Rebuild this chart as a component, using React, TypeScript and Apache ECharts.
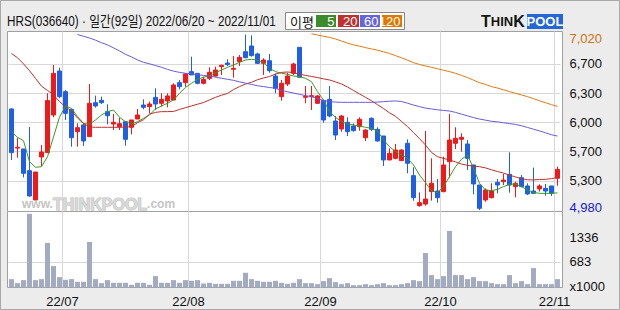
import React, { useEffect, useRef } from "react";
import * as echarts from "echarts";

const stockName = "HRS";
const stockCode = "036640";

const dates = [
  "2022/06/20", "2022/06/21", "2022/06/22", "2022/06/23", "2022/06/24", "2022/06/27", "2022/06/28", "2022/06/29", "2022/06/30",
  "2022/07/01", "2022/07/04", "2022/07/05", "2022/07/06", "2022/07/07", "2022/07/08", "2022/07/11", "2022/07/12", "2022/07/13",
  "2022/07/14", "2022/07/15", "2022/07/18", "2022/07/19", "2022/07/20", "2022/07/21", "2022/07/22", "2022/07/25", "2022/07/26",
  "2022/07/27", "2022/07/28", "2022/07/29",
  "2022/08/01", "2022/08/02", "2022/08/03", "2022/08/04", "2022/08/05", "2022/08/08", "2022/08/09", "2022/08/10", "2022/08/11",
  "2022/08/12", "2022/08/16", "2022/08/17", "2022/08/18", "2022/08/19", "2022/08/22", "2022/08/23", "2022/08/24", "2022/08/25",
  "2022/08/26", "2022/08/29", "2022/08/30", "2022/08/31",
  "2022/09/01", "2022/09/02", "2022/09/05", "2022/09/06", "2022/09/07", "2022/09/08", "2022/09/13", "2022/09/14", "2022/09/15",
  "2022/09/16", "2022/09/19", "2022/09/20", "2022/09/21", "2022/09/22", "2022/09/23", "2022/09/26", "2022/09/27", "2022/09/28",
  "2022/09/29", "2022/09/30",
  "2022/10/04", "2022/10/05", "2022/10/06", "2022/10/07", "2022/10/11", "2022/10/12", "2022/10/13", "2022/10/14", "2022/10/17",
  "2022/10/18", "2022/10/19", "2022/10/20", "2022/10/21", "2022/10/24", "2022/10/25", "2022/10/26", "2022/10/27", "2022/10/28",
  "2022/10/31",
  "2022/11/01",
];

const openP = [
  6155, 5700, 5690, 5438, 5097, 5597, 5647, 6085, 6596, 6356,
  6151, 5891, 5969, 5833, 6228, 6255, 6124, 5980, 5949, 6007,
  5942, 6038, 6201, 6182, 6290, 6221, 6248, 6259, 6461, 6461,
  6589, 6569, 6453, 6511, 6538, 6647, 6689, 6616, 6705, 6821,
  6887, 6794, 6685, 6716, 6538, 6298, 6445, 6569, 6872, 6290,
  6298, 6221, 6252, 6267, 6015, 5922, 6000, 5957, 5949, 5821,
  6046, 5918, 5841, 5562, 5581, 5554, 5756, 5380, 5031, 5050,
  5194, 5201, 5194, 5542, 5756, 5802, 5748, 5504, 5271, 5097,
  5124, 5302, 5310, 5395, 5252, 5356, 5260, 5201, 5225, 5232,
  5260, 5349,
];
const closeP = [
  5647, 5710, 5407, 5143, 5422, 5655, 6252, 6569, 6298, 6104,
  5821, 5938, 5783, 6221, 6190, 6228, 6077, 6000, 5984, 5802,
  6027, 6085, 6174, 6213, 6213, 6267, 6306, 6434, 6414, 6562,
  6550, 6453, 6500, 6581, 6608, 6662, 6670, 6627, 6755, 6751,
  6775, 6685, 6724, 6600, 6395, 6453, 6538, 6678, 6523, 6302,
  6310, 6306, 6027, 6073, 5852, 6073, 5891, 5903, 6035, 5910,
  5918, 5783, 5562, 5639, 5678, 5678, 5523, 5124, 5066, 5108,
  5291, 5124, 5504, 5794, 5814, 5825, 5581, 5283, 5000, 5213,
  5201, 5271, 5329, 5271, 5291, 5252, 5167, 5174, 5260, 5201,
  5174, 5453,
];
const lowP = [
  5562, 5589, 5360, 5136, 5097, 5490, 5647, 6058, 6279, 6027,
  5717, 5717, 5725, 5833, 6170, 6213, 5976, 5910, 5910, 5728,
  5860, 6038, 6151, 6104, 6143, 6182, 6174, 6259, 6383, 6414,
  6550, 6441, 6441, 6492, 6531, 6550, 6654, 6519, 6654, 6744,
  6763, 6678, 6550, 6577, 6337, 6252, 6422, 6550, 6523, 6221,
  6143, 6213, 5996, 6058, 5794, 5891, 5841, 5891, 5903, 5783,
  5899, 5775, 5492, 5562, 5570, 5554, 5407, 5089, 5019, 5031,
  5089, 5066, 5186, 5356, 5690, 5659, 5446, 5163, 4980, 5077,
  5116, 5174, 5271, 5182, 5128, 5244, 5155, 5167, 5194, 5147,
  5143, 5263,
];
const highP = [
  6162, 5821, 5690, 5945, 5422, 5736, 6337, 6666, 6635, 6376,
  6151, 5988, 5988, 6445, 6310, 6298, 6209, 6096, 6054, 6007,
  6027, 6155, 6267, 6240, 6395, 6337, 6337, 6453, 6492, 6569,
  6763, 6569, 6531, 6639, 6647, 6670, 6732, 6771, 6782, 7020,
  7010, 6810, 6744, 6794, 6569, 6492, 6577, 6693, 6872, 6422,
  6422, 6317, 6267, 6422, 6073, 6085, 6058, 5988, 6058, 5918,
  6058, 5942, 5841, 5697, 5748, 5686, 5802, 5477, 5186, 5899,
  5581, 5341, 5601, 6096, 5942, 5872, 5794, 5504, 5271, 5232,
  5291, 5341, 5399, 5651, 5310, 5387, 5291, 5473, 5279, 5283,
  5260, 5484,
];

// volume in thousands of shares
const volume = [
  223, 116, 196, 1960, 196, 223, 1185, 570, 276, 205,
  223, 151, 151, 1211, 223, 116, 196, 125, 125, 125,
  71, 125, 125, 71, 303, 125, 125, 196, 125, 196,
  178, 196, 107, 125, 98, 98, 98, 178, 178, 392,
  223, 178, 151, 151, 178, 125, 98, 125, 223, 116,
  116, 89, 169, 249, 143, 89, 116, 62, 62, 89,
  62, 89, 116, 62, 62, 89, 116, 196, 169, 917,
  330, 223, 303, 1505, 330, 330, 223, 276, 169, 169,
  116, 89, 89, 330, 116, 169, 89, 517, 89, 89,
  89, 223,
];

const ma5 = [
  5891, 5825, 5786, 5542, 5477, 5484, 5600, 5830, 6060, 6190,
  6162, 6066, 5988, 5976, 6027, 6085, 6124, 6143, 6058, 6007,
  5980, 6007, 6046, 6085, 6155, 6190, 6221, 6259, 6337, 6406,
  6453, 6500, 6523, 6542, 6577, 6608, 6639, 6666, 6697, 6724,
  6732, 6724, 6693, 6627, 6589, 6570, 6558, 6538, 6531, 6511,
  6472, 6356, 6259, 6124, 6058, 6007, 5980, 5969, 5957, 5942,
  5930, 5903, 5794, 5717, 5659, 5620, 5581, 5504, 5387, 5298,
  5205, 5182, 5252, 5368, 5484, 5570, 5620, 5465, 5291, 5213,
  5205, 5221, 5252, 5279, 5283, 5252, 5213, 5186, 5174, 5174,
  5174, 5180,
];
const ma20 = [
  6800, 6750, 6680, 6600, 6510, 6420, 6370, 6320, 6240, 6180,
  6130, 6050, 5985, 5945, 5942, 5942, 5942, 5942, 5942, 5945,
  5950, 5995, 6030, 6095, 6115, 6124, 6124, 6126, 6150, 6170,
  6190, 6210, 6230, 6260, 6290, 6315, 6335, 6380, 6415, 6445,
  6465, 6495, 6515, 6532, 6560, 6580, 6585, 6577, 6560, 6545,
  6533, 6520, 6505, 6492, 6470, 6445, 6410, 6370, 6330, 6290,
  6250, 6205, 6160, 6110, 6070, 6010, 5950, 5880, 5810, 5736,
  5650, 5600, 5580, 5562, 5540, 5515, 5500, 5490, 5484, 5470,
  5448, 5428, 5410, 5385, 5365, 5345, 5332, 5330, 5335, 5337,
  5345, 5360,
];
const ma60 = [
  null, null, null, null, null, null, null, null, null, null,
  null, 7020, 7000, 6980, 6955, 6925, 6900, 6865, 6830, 6790,
  6760, 6725, 6697, 6680, 6660, 6640, 6615, 6595, 6580, 6570,
  6560, 6552, 6545, 6538, 6525, 6512, 6500, 6488, 6470, 6455,
  6440, 6425, 6415, 6405, 6395, 6370, 6355, 6340, 6325, 6310,
  6298, 6275, 6255, 6240, 6235, 6232, 6232, 6232, 6232, 6232,
  6232, 6235, 6240, 6245, 6248, 6242, 6222, 6200, 6182, 6165,
  6155, 6145, 6138, 6131, 6115, 6095, 6075, 6055, 6038, 6025,
  6012, 6005, 5995, 5985, 5975, 5960, 5940, 5920, 5900, 5878,
  5855, 5840,
];
const ma120 = [
  null, null, null, null, null, null, null, null, null, null,
  null, null, null, null, null, null, null, null, null, null,
  null, null, null, null, null, null, null, null, null, null,
  null, null, null, null, null, null, null, null, null, null,
  null, null, null, null, null, null, null, null, null, null,
  7030, 7015, 7000, 6988, 6968, 6945, 6920, 6900, 6885, 6868,
  6853, 6838, 6820, 6800, 6775, 6750, 6722, 6693, 6672, 6655,
  6639, 6622, 6605, 6589, 6570, 6545, 6520, 6490, 6460, 6440,
  6415, 6398, 6378, 6357, 6337, 6318, 6298, 6275, 6250, 6228,
  6205, 6185,
];

const priceTicks = [4980, 5320, 5660, 6000, 6340, 6680, 7020];
const priceTickLabels = ["4,980", "5,300", "5,700", "6,000", "6,300", "6,700", "7,020"];
const volumeTicks = [0, 683, 1336];
const volumeTickLabels = ["x1000", "683", "1336"];
const maNames = ["5", "20", "60", "120"];
const maColors = ["#3C9A22", "#C0302C", "#6A5ADC", "#E07A10"];
const maBoxColors = ["#3C8C2C", "#C0302C", "#6464DC", "#E07800"];

const UP = "#F01818";
const DOWN = "#1E5FE6";
const FONT = "'Liberation Sans', 'Noto Sans CJK KR', sans-serif";

function buildOption() {
  const monthStarts: number[] = [];
  dates.forEach((d, i) => {
    if (i > 0 && d.slice(5, 7) !== dates[i - 1].slice(5, 7)) monthStarts.push(i);
  });
  const monthSet = new Set(monthStarts);
  const n = dates.length;
  const header = `${stockName}(${stockCode}) · 일간(${n}일) ${dates[0]} ~ ${dates[n - 1]}`;

  const grids = [
    { left: 8.5, width: 552, top: 31.5, height: 180 },
    { left: 8.5, width: 552, top: 211.5, height: 76 },
  ];

  const legendEls: any[] = [];
  const boxX = [316, 338, 360, 382];
  const boxW = [20, 21, 20, 20];
  maNames.forEach((nm, k) => {
    legendEls.push({
      type: "rect",
      shape: { x: boxX[k], y: 15, width: boxW[k], height: 12 },
      style: { fill: maBoxColors[k] },
      z: 10,
    });
    legendEls.push({
      type: "text",
      x: boxX[k] + boxW[k] - 1.5,
      y: 21.5,
      style: { text: nm, fill: "#fff", font: `13px ${FONT}`, align: "right", verticalAlign: "middle" },
      z: 11,
    });
  });

  return {
    animation: false,
    backgroundColor: "#ECECEC",
    grid: grids,
    xAxis: [
      {
        type: "category", gridIndex: 0, data: dates, boundaryGap: true,
        axisLine: { show: false }, axisTick: { show: false }, axisLabel: { show: false }, splitLine: { show: false },
      },
      {
        type: "category", gridIndex: 1, data: dates, boundaryGap: true,
        axisLine: { show: false }, axisTick: { show: false }, splitLine: { show: false },
        axisLabel: {
          show: true,
          interval: (i: number) => monthSet.has(i),
          formatter: (v: string) => `{a|${v.slice(2, 4)}/${v.slice(5, 7)}}`,
          margin: 7,
          rich: { a: { fontFamily: FONT, fontSize: 13, color: "#111", padding: [0, 6, 0, 0] } },
        },
      },
      {
        type: "value", gridIndex: 0, min: 0, max: n,
        axisLine: { show: false }, axisLabel: { show: false },
        axisTick: { show: false, customValues: monthStarts },
        splitLine: { show: true, lineStyle: { color: "#D8D8D8", width: 1 } },
      },
      {
        type: "value", gridIndex: 1, min: 0, max: n,
        axisLine: { show: false }, axisLabel: { show: false },
        axisTick: { show: false, customValues: monthStarts },
        splitLine: { show: true, lineStyle: { color: "#D8D8D8", width: 1 } },
      },
    ],
    yAxis: [
      {
        type: "value", gridIndex: 0, position: "right", min: 4963, max: 7055.5,
        axisLine: { show: false },
        axisTick: { show: false, customValues: priceTicks },
        splitLine: { show: true, showMinLine: false, showMaxLine: false, lineStyle: { color: "#D8D8D8" } },
        axisLabel: {
          customValues: priceTicks,
          margin: 9,
          formatter: (v: number) => {
            const k = priceTicks.indexOf(v);
            if (k < 0) return "";
            if (k === priceTicks.length - 1) return `{mx|${priceTickLabels[k]}}`;
            if (k === 0) return `{mn|${priceTickLabels[k]}}`;
            return `{n|${priceTickLabels[k]}}`;
          },
          rich: {
            n: { fontFamily: FONT, fontSize: 13, color: "#111" },
            mx: { fontFamily: FONT, fontSize: 13, color: "#D07010", padding: [7, 0, 0, 0] },
            mn: { fontFamily: FONT, fontSize: 13, color: "#1818D0", padding: [0, 0, 6, 0] },
          },
        },
      },
      {
        type: "value", gridIndex: 1, position: "right", min: 0, max: 2022,
        axisLine: { show: false },
        axisTick: { show: false, customValues: volumeTicks },
        splitLine: { show: true, showMinLine: false, showMaxLine: false, lineStyle: { color: "#D8D8D8" } },
        axisLabel: {
          customValues: volumeTicks,
          margin: 9,
          formatter: (v: number) => {
            const k = volumeTicks.indexOf(v);
            if (k < 0) return "";
            if (k === 0) return `{b|${volumeTickLabels[k]}}`;
            return `{n|${volumeTickLabels[k]}}`;
          },
          rich: {
            n: { fontFamily: FONT, fontSize: 13, color: "#111" },
            b: { fontFamily: FONT, fontSize: 13, color: "#111", padding: [0, 0, 3, 0] },
          },
        },
      },
    ],
    graphic: {
      elements: [
        { type: "rect", shape: { x: 0.5, y: 0.5, width: 619, height: 309 }, style: { fill: "#ECECEC", stroke: "#A8A8A8", lineWidth: 1 }, z: -20 },
        { type: "rect", shape: { x: 7.5, y: 31.5, width: 555, height: 180 }, style: { fill: "#fff", stroke: "#A0A0A0", lineWidth: 1 }, z: -10 },
        { type: "rect", shape: { x: 7.5, y: 211.5, width: 555, height: 76 }, style: { fill: "#fff", stroke: "#A0A0A0", lineWidth: 1 }, z: -10 },
        {
          type: "text", x: 7, y: 21, scaleX: 0.84,
          style: { text: header, fill: "#111", font: `14px ${FONT}`, verticalAlign: "middle" },
          z: 10,
        },
        { type: "rect", shape: { x: 285.5, y: 12.5, width: 119, height: 17 }, style: { fill: "#fff", stroke: "#888", lineWidth: 1 }, z: 9 },
        {
          type: "text", x: 290, y: 21,
          style: { text: "이평", fill: "#111", font: `13px 'Noto Sans CJK KR', sans-serif`, verticalAlign: "middle" },
          z: 10,
        },
        ...legendEls,
        {
          type: "text", x: 481, y: 21.5,
          style: {
            text: "{t|T}{s|HIN}{t|K}",
            verticalAlign: "middle",
            rich: {
              t: { font: "bold 16px 'Liberation Sans', sans-serif", fill: "#151515" },
              s: { font: "bold 13px 'Liberation Sans', sans-serif", fill: "#151515" },
            },
          },
          z: 10,
        },
        { type: "rect", shape: { x: 527, y: 14, width: 36, height: 15 }, style: { fill: "#2468D8" }, z: 10 },
        {
          type: "text", x: 545, y: 21.5,
          style: { text: "POOL", fill: "#fff", font: "bold 13px 'Liberation Sans', sans-serif", align: "center", verticalAlign: "middle" },
          z: 11,
        },
        {
          type: "text", x: 22, y: 204,
          style: {
            text: "{a|www.}{b|THINKPOOL}{a|.com}",
            verticalAlign: "middle",
            rich: {
              a: { font: "bold 12px 'Liberation Sans', sans-serif", fill: "#C4C4C4" },
              b: { font: "bold 16px 'Liberation Sans', sans-serif", fill: "#D8D8D8", stroke: "#BBBBBB", lineWidth: 1 },
            },
          },
          z: -5,
        },
      ],
    },
    series: [
      {
        type: "candlestick",
        xAxisIndex: 0, yAxisIndex: 0,
        barWidth: 5,
        data: dates.map((_, i) => [openP[i], closeP[i], lowP[i], highP[i]]),
        itemStyle: { color: UP, color0: DOWN, borderColor: UP, borderColor0: DOWN, borderWidth: 1 },
      },
      ...[ma5, ma20, ma60, ma120].map((arr, k) => ({
        type: "line",
        name: maNames[k],
        xAxisIndex: 0, yAxisIndex: 0,
        data: arr,
        symbol: "none",
        clip: false,
        lineStyle: { color: maColors[k], width: 1 },
        z: 3,
      })),
      {
        type: "bar",
        xAxisIndex: 1, yAxisIndex: 1,
        barWidth: 5,
        data: volume,
        itemStyle: { color: "#A3ABC3" },
      },
    ],
  };
}

export default function App() {
  const ref = useRef<HTMLDivElement>(null);
  useEffect(() => {
    if (!ref.current) return;
    const chart = echarts.init(ref.current, null, { renderer: "svg" });
    chart.setOption(buildOption() as any);
    return () => chart.dispose();
  }, []);
  return <div ref={ref} style={{ position: "absolute", left: 0, top: 0, width: 620, height: 310 }} />;
}
